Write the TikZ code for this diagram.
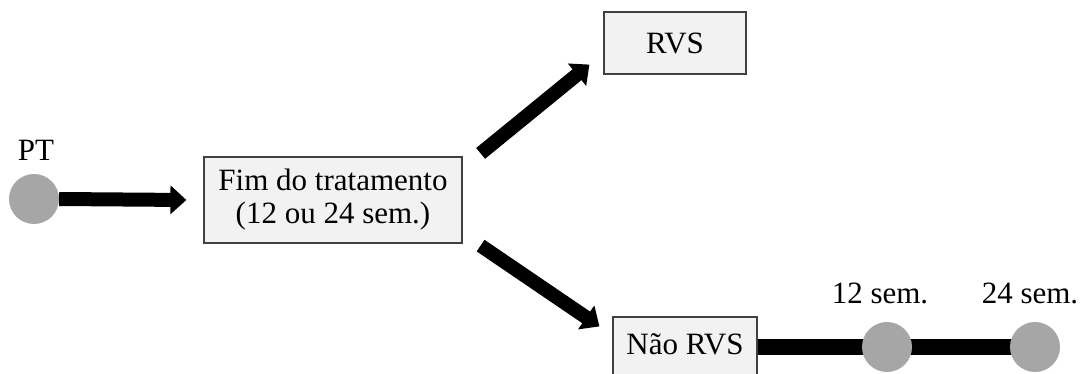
\documentclass[tikz,border=0pt]{standalone}
\usepackage{fontspec}
\setmainfont{Liberation Serif}
\usetikzlibrary{arrows.meta,calc,backgrounds}
\definecolor{dotgray}{HTML}{A6A6A6}
\definecolor{boxfill}{HTML}{F2F2F2}
\definecolor{boxline}{HTML}{404040}
\begin{document}
\begin{tikzpicture}[x=1pt,y=-1pt,
  txt/.style={font=\fontsize{31}{33}\selectfont},
  box/.style={draw=boxline, fill=boxfill, line width=1.2pt, inner sep=0pt, txt, align=center},
  dot/.style={circle, fill=dotgray, minimum size=50pt, inner sep=0pt},
  arr/.style={line width=14pt, -{Triangle[length=16pt,width=28pt]}},
  bar/.style={line width=16pt}
]
\useasboundingbox (0,0) rectangle (1086,374);
\node[dot] (pt) at (34,199) {};
\node[txt] (ptl) at (36,150) {PT};
\node[box, minimum width=258pt, minimum height=86pt] (fim) at (333,200) {Fim do tratamento\\(12 ou 24 sem.)};
\node[box, minimum width=142pt, minimum height=62pt] (rvs) at (675,43) {RVS};
\node[box, minimum width=144pt, minimum height=62pt] (nr) at (685,348) {};
\node[txt] (nrl) at (685,344) {Não RVS};
\node[dot] (c12) at (887,347) {};
\node[dot] (c24) at (1035,347) {};
\node[txt] (l12) at (880,293) {12 sem.};
\node[txt] (l24) at (1030,293) {24 sem.};
\begin{pgfonlayer}{background}
\draw[bar] (nr.east |- c24.center) -- (c24.center);
\end{pgfonlayer}
\draw[arr] (pt.east) -- ($(fim.west)+(-17,0)$);
\draw[arr] ($(fim.north east)+(18,-3)$) -- ($(rvs.south west)+(-14,-10)$);
\draw[arr] ($(fim.south east)+(18,2)$) -- ($(nr.north west)+(-13,10)$);
\end{tikzpicture}
\end{document}
